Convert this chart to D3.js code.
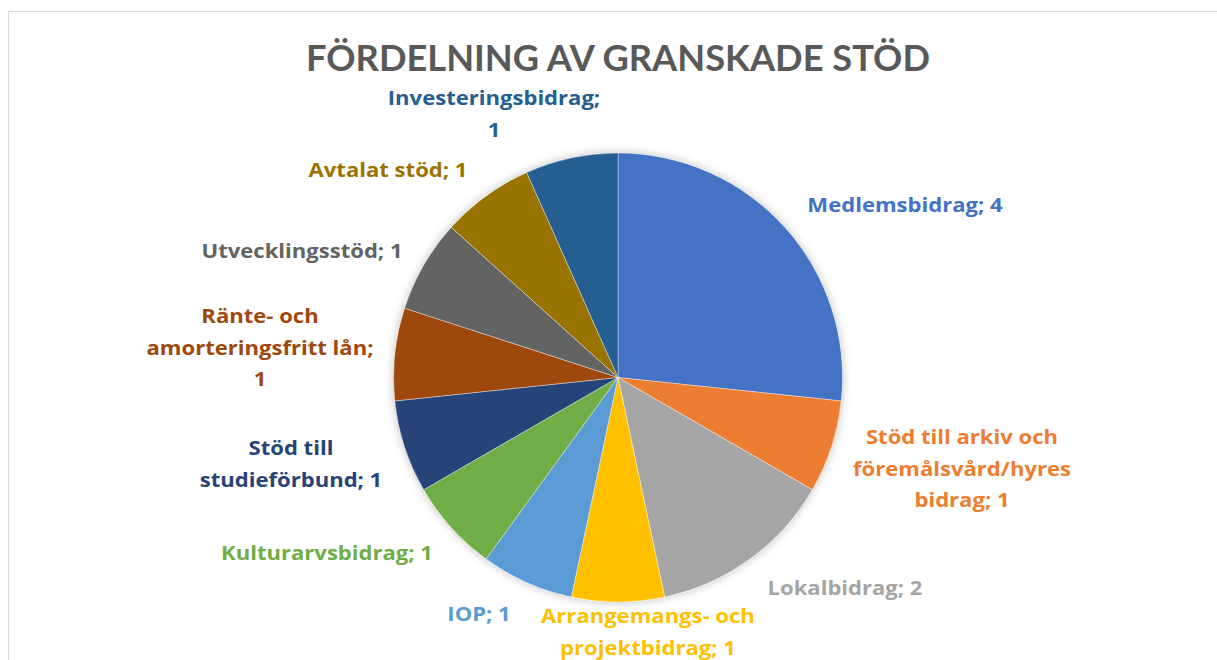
<!DOCTYPE html>
<html lang="sv">
<head>
<meta charset="utf-8">
<title>Fördelning av granskade stöd</title>
<script src="https://cdn.jsdelivr.net/npm/d3@7"></script>
<style>
  body { margin: 0; background: #fff; }
  text { font-family: "Open Sans", Lato, sans-serif; font-weight: bold; }
  text.title { font-family: Lato, "Open Sans", sans-serif; }
</style>
</head>
<body>
<div id="chart"></div>
<script>
// data
var categories = ["Medlemsbidrag", "Stöd till arkiv och föremålsvård/hyres bidrag", "Lokalbidrag",
  "Arrangemangs- och projektbidrag", "IOP", "Kulturarvsbidrag", "Stöd till studieförbund",
  "Ränte- och amorteringsfritt lån", "Utvecklingsstöd", "Avtalat stöd", "Investeringsbidrag"];
var values = [4, 1, 2, 1, 1, 1, 1, 1, 1, 1, 1];
var colors = ["#4472C4", "#ED7D31", "#A5A5A5", "#FFC000", "#5B9BD5", "#70AD47",
  "#264478", "#9E480E", "#636363", "#997300", "#255E91"];

// label placement (Excel "best fit"), x = centre, y = first baseline, words per line
var labelLayout = [
  { x: 905, y: 212, words: [2] },
  { x: 962, y: 444, words: [4, 1, 2] },
  { x: 845, y: 595, words: [2] },
  { x: 648, y: 623, words: [2, 2] },
  { x: 479, y: 621, words: [2] },
  { x: 327, y: 560, words: [2] },
  { x: 291, y: 455, words: [2, 2] },
  { x: 260, y: 323, words: [2, 2, 1] },
  { x: 302, y: 258, words: [2] },
  { x: 388, y: 177, words: [3] },
  { x: 494, y: 105, words: [1, 1] }
];

var w = 1217, h = 660;
var cx = 618, cy = 377.5, radius = 224.5;

var svg = d3.select("#chart").append("svg")
  .attr("width", w)
  .attr("height", h);

var defs = svg.append("defs");
var shadow = defs.append("filter").attr("id", "shadow")
  .attr("x", "-20%").attr("y", "-20%").attr("width", "140%").attr("height", "140%");
shadow.append("feDropShadow")
  .attr("dx", 0).attr("dy", 0).attr("stdDeviation", 5)
  .attr("flood-color", "#000").attr("flood-opacity", 0.25);

// chart area border
svg.append("rect")
  .attr("x", 8.5).attr("y", 11.5)
  .attr("width", w + 20).attr("height", h + 20)
  .attr("fill", "none")
  .attr("stroke", "#d9d9d9");

svg.append("text")
  .attr("class", "title")
  .attr("x", cx).attr("y", 71)
  .attr("text-anchor", "middle")
  .attr("font-size", 36)
  .attr("fill", "#595959")
  .attr("textLength", 624)
  .attr("lengthAdjust", "spacingAndGlyphs")
  .text("FÖRDELNING AV GRANSKADE STÖD");

var pie = d3.pie().sort(null).value(function(d) { return d; });
var arc = d3.arc().innerRadius(0).outerRadius(radius);
var arcs = pie(values);

var g = svg.append("g").attr("transform", "translate(" + cx + "," + cy + ")");

g.append("circle").attr("r", radius).attr("fill", "#fff").attr("filter", "url(#shadow)");

g.selectAll("path.slice")
  .data(arcs)
  .enter()
  .append("path")
  .attr("class", "slice")
  .attr("d", arc)
  .attr("fill", function(d, i) { return colors[i]; })
  .attr("stroke", "#fff")
  .attr("stroke-opacity", 0.5)
  .attr("stroke-width", 0.75);

// data labels; Calibri is narrower and heavier, so stretch a bit to its widths
var lineHeight = 31.5;
var fontSize = 20;
var probe = svg.append("text").attr("font-size", fontSize).text("Utvecklingsstöd; 1");
var stretch = 201 / probe.node().getComputedTextLength();
probe.remove();

arcs.forEach(function(d, i) {
  var lay = labelLayout[i];
  var tokens = (categories[i] + "; " + values[i]).split(" ");
  var k = 0;
  lay.words.forEach(function(n, j) {
    var line = tokens.slice(k, k + n).join(" ");
    k += n;
    var t = svg.append("text")
      .attr("x", lay.x)
      .attr("y", lay.y + j * lineHeight)
      .attr("text-anchor", "middle")
      .attr("font-size", fontSize)
      .attr("fill", colors[i])
      .text(line);
    t.attr("textLength", t.node().getComputedTextLength() * stretch)
      .attr("lengthAdjust", "spacingAndGlyphs");
  });
});
</script>
</body>
</html>
